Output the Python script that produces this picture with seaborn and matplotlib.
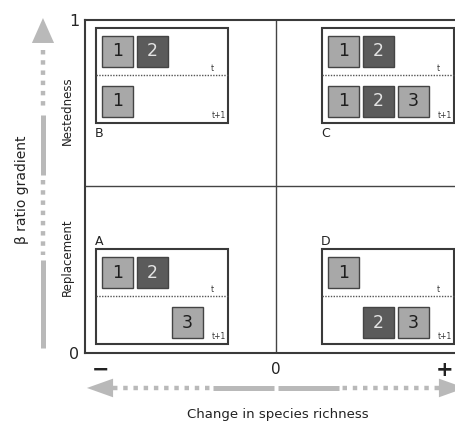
import numpy as np
import matplotlib
matplotlib.use('Agg')
import matplotlib.pyplot as plt
import matplotlib.patches as mpatches
import seaborn as sns

sns.set_style("white")
plt.rcParams['font.family'] = ['DejaVu Sans']

# quadrant data: letter, species present at t and at t+1
quadrant_letters = ['B', 'C', 'A', 'D']
quadrant_col = [0, 1, 0, 1]          # 0 = left (loss), 1 = right (gain)
quadrant_row = [1, 1, 0, 0]          # 1 = top (nestedness), 0 = bottom (replacement)
species_t = [[1, 2], [1, 2], [1, 2], [1]]
species_t1 = [[1], [1, 2, 3], [3], [2, 3]]
species_fill = {1: '#a8a8a8', 2: '#5b5b5b', 3: '#a8a8a8'}
species_text = {1: '#1e1e1e', 2: '#e4e4e4', 3: '#1e1e1e'}

y_ticks = [0, 1]
y_tick_labels = ['0', '1']
x_tick_labels = ['\u2212', '0', '+']
row_labels = ['Replacement', 'Nestedness']

# layout (axis units: x -1..1, y 0..1)
box_x0 = [-0.942, 0.241]
box_y0 = [0.027, 0.691]
box_w, box_h = 0.69, 0.285
sq_w, sq_h = 0.162, 0.093
slot_dx = [0.031, 0.215, 0.398]
row_dy_t, row_dy_t1 = 0.168, 0.018
div_dy = 0.144
arrow_grey = '#b9b9b9'

fig = plt.figure(figsize=(4.55, 4.23), dpi=100)
ax = fig.add_axes([85 / 455, 70 / 423, 382 / 455, 333 / 423])
ax.set_xlim(-1, 1)
ax.set_ylim(0, 1)
for s in ax.spines.values():
    s.set_color('#3a3a3a')
    s.set_linewidth(1.5)
ax.axvline(0, color='#444444', lw=1)
ax.axhline(0.5, color='#444444', lw=1)

ax.set_yticks(y_ticks)
ax.set_yticklabels(y_tick_labels, fontsize=11.5)
ax.tick_params(axis='y', length=0, pad=4)
ax.set_xticks([])

for i, letter in enumerate(quadrant_letters):
    x0 = box_x0[quadrant_col[i]]
    y0 = box_y0[quadrant_row[i]]
    ax.add_patch(mpatches.Rectangle((x0, y0), box_w, box_h, fill=True, facecolor='white',
                                    edgecolor='#3a3a3a', lw=1.5, zorder=2))
    ax.plot([x0, x0 + box_w], [y0 + div_dy] * 2, color='#555555', lw=1,
            linestyle=(0, (1, 1)), zorder=3)
    for sp_list, dy in [(species_t[i], row_dy_t), (species_t1[i], row_dy_t1)]:
        for sp in sp_list:
            sx = x0 + slot_dx[sp - 1]
            sy = y0 + dy
            ax.add_patch(mpatches.Rectangle((sx, sy), sq_w, sq_h, facecolor=species_fill[sp],
                                            edgecolor='#444444', lw=1, zorder=4))
            ax.text(sx + sq_w / 2, sy + sq_h / 2, str(sp), ha='center', va='center',
                    fontsize=12.5, color=species_text[sp], zorder=5)
    ax.text(x0 + box_w - 0.08, y0 + div_dy + 0.006, 't', fontsize=5.5, ha='center',
            va='bottom', color='#333333', zorder=5)
    ax.text(x0 + box_w - 0.01, y0 + 0.008, 't+1', fontsize=5.5, ha='right',
            va='bottom', color='#333333', zorder=5)
    if quadrant_row[i] == 1:
        ax.text(x0 - 0.005, y0 - 0.012, letter, fontsize=9, ha='left', va='top', color='#222222')
    else:
        ax.text(x0 - 0.005, y0 + box_h + 0.004, letter, fontsize=9, ha='left', va='bottom',
                color='#222222')

# row labels
ax.text(-1.094, 0.727, row_labels[1], rotation=90, ha='center', va='center',
        fontsize=8.5, color='#222222')
ax.text(-1.094, 0.288, row_labels[0], rotation=90, ha='center', va='center',
        fontsize=8.5, color='#222222')
ax.text(-1.33, 0.49, '\u03b2 ratio gradient', rotation=90, ha='center', va='center',
        fontsize=10, color='#222222')

# x axis labels
ax.text(-0.92, -0.05, x_tick_labels[0], fontsize=15, fontweight='bold', ha='center',
        va='center', color='#222222')
ax.text(0, -0.05, x_tick_labels[1], fontsize=11, ha='center', va='center', color='#222222')
ax.text(0.885, -0.05, x_tick_labels[2], fontsize=15, fontweight='bold', ha='center',
        va='center', color='#222222')
ax.text(0.01, -0.186, 'Change in species richness', fontsize=9.5, ha='center',
        va='center', color='#222222')

# horizontal double arrow
ya = -0.105
dots = dict(color=arrow_grey, lw=3.2, linestyle=(0, (1, 1.3)), solid_capstyle='butt',
            dash_capstyle='butt', clip_on=False)
solid = dict(color=arrow_grey, lw=3.6, solid_capstyle='butt', clip_on=False)
for sgn in [-1, 1]:
    ax.plot([sgn * 0.853, sgn * 0.343], [ya, ya], **dots)
    ax.plot([sgn * 0.33, sgn * 0.012], [ya, ya], **solid)
    ax.fill([sgn * 0.99, sgn * 0.853, sgn * 0.853], [ya, ya + 0.028, ya - 0.028],
            color=arrow_grey, clip_on=False, lw=0)

# vertical arrow
xa = -1.22
ax.plot([xa, xa], [0.91, 0.73], **dots)
ax.plot([xa, xa], [0.715, 0.535], **solid)
ax.plot([xa, xa], [0.52, 0.294], **dots)
ax.plot([xa, xa], [0.279, 0.015], **solid)
ax.fill([xa, xa - 0.058, xa + 0.058], [1.006, 0.931, 0.931], color=arrow_grey,
        clip_on=False, lw=0)

fig.savefig('out.png', dpi=100)
